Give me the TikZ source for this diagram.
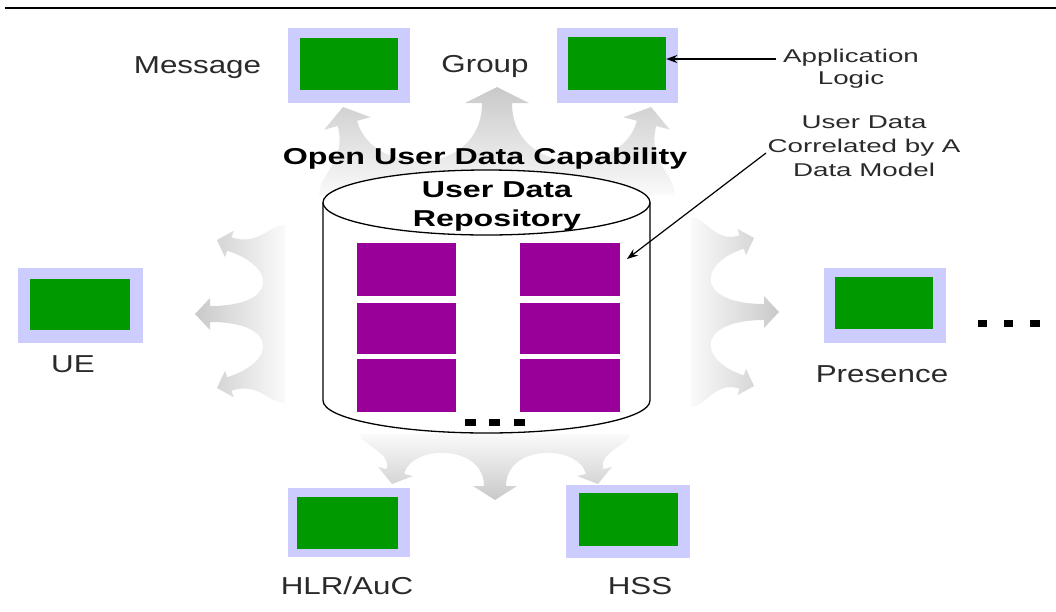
\documentclass[tikz,border=0pt]{standalone}
\usepackage{fontspec}
\setmainfont{Liberation Sans}
\newfontfamily\lblfont{Liberation Sans}[FakeStretch=1.28]
\newfontfamily\hdfont{Liberation Sans}[FakeStretch=1.4]
\newfontfamily\notefont{Liberation Sans}[FakeStretch=1.5]
\usetikzlibrary{arrows.meta}

\definecolor{boxgreen}{HTML}{009900}
\definecolor{lavender}{HTML}{CCCCFF}
\definecolor{blockpurple}{HTML}{990099}
\definecolor{fandark}{HTML}{C9C9C9}
\definecolor{fanlight}{HTML}{FAFAFA}
\definecolor{labeltext}{HTML}{2A2A2A}

% parameters of a fan of three broad arrows, in local units:
% width along the base, height towards the tips
\pgfkeys{/fan/.cd,
  W/.store in=\fW, S/.store in=\fS, Lc/.store in=\fLc, Ls/.store in=\fLs,
  d/.store in=\fd, hwc/.store in=\fhwc, hlc/.store in=\fhlc, swc/.store in=\fswc,
  hw/.store in=\fhw, hl/.store in=\fhl, sw/.store in=\fsw, tilt/.store in=\ftilt}

\newcommand\fanshape[1]{%
  \pgfkeys{/fan/.cd,#1}%
  \pgfmathsetmacro\sa{sin(\ftilt)}%
  \pgfmathsetmacro\ca{cos(\ftilt)}%
  % centre of the base of a side arrow head
  \pgfmathsetmacro\bx{\fS-\fhl*\sa}%
  \pgfmathsetmacro\by{\fLs-\fhl*\ca}%
  % head corners and shaft corners of a side arrow
  \pgfmathsetmacro\hox{\bx+\fhw*\ca}\pgfmathsetmacro\hoy{\by-\fhw*\sa}%
  \pgfmathsetmacro\hix{\bx-\fhw*\ca}\pgfmathsetmacro\hiy{\by+\fhw*\sa}%
  \pgfmathsetmacro\pox{\bx+\fsw*\ca}\pgfmathsetmacro\poy{\by-\fsw*\sa}%
  \pgfmathsetmacro\pix{\bx-\fsw*\ca}\pgfmathsetmacro\piy{\by+\fsw*\sa}%
  \pgfmathsetmacro\cy{\fLc-\fhlc}%
  % control height of the bays between the arrows
  \pgfmathsetmacro\yb{(\fd-0.125*(\cy+\piy))/0.75}%
  \pgfmathsetmacro\bcx{\pix-(\piy-\yb)*\sa/\ca}%
  % controls of the outer edges
  \pgfmathsetmacro\ocx{\pox-0.5*\poy*\sa/\ca}\pgfmathsetmacro\ocy{0.5*\poy}%
  \pgfmathsetmacro\owy{0.3*\poy}%
  \shade[fanshade]
    (-\fW,0) .. controls (-\fW,\owy) and (-\ocx,\ocy) .. (-\pox,\poy)
    -- (-\hox,\hoy) -- (-\fS,\fLs) -- (-\hix,\hiy) -- (-\pix,\piy)
    .. controls (-\bcx,\yb) and (-\fswc,\yb) .. (-\fswc,\cy)
    -- (-\fhwc,\cy) -- (0,\fLc) -- (\fhwc,\cy) -- (\fswc,\cy)
    .. controls (\fswc,\yb) and (\bcx,\yb) .. (\pix,\piy)
    -- (\hix,\hiy) -- (\fS,\fLs) -- (\hox,\hoy) -- (\pox,\poy)
    .. controls (\ocx,\ocy) and (\fW,\owy) .. (\fW,0) -- cycle;
}

\begin{document}
\begin{tikzpicture}[x=1pt,y=-1pt,
  frame/.style={fill=lavender, draw=none, inner sep=0},
  gbox/.style={fill=boxgreen, draw=none, inner sep=0},
  pblock/.style={fill=blockpurple, draw=none, inner sep=0, minimum width=99pt},
  lbl/.style={font=\lblfont\fontsize{24.5}{29}\selectfont, text=labeltext, inner sep=0, anchor=base},
  hd/.style={font=\hdfont\bfseries\fontsize{23}{29}\selectfont, text=black, inner sep=0, align=center},
  note/.style={font=\notefont\fontsize{18.5}{24}\selectfont, text=labeltext, inner sep=0, align=center},
  pointer/.style={draw=black, line width=1.2pt, -{Stealth[length=11pt,width=8pt]}},
  cyl/.style={draw=black, line width=1.3pt},
]
\useasboundingbox (0,0) rectangle (1056,611);

% rule along the top
\draw[line width=2pt] (5,8) -- (1056,8);

% fans of broad grey arrows around the repository
\begin{scope}[shift={(497,195)}, x={(1pt,0pt)}, y={(0pt,1pt)},
    fanshade/.style={top color=fandark, bottom color=fanlight}]
  \fanshape{W=178, S=154, Lc=108, Ls=88, d=34, hwc=32, hlc=16, swc=15,
            hw=24, hl=17, sw=10, tilt=15}
\end{scope}
\begin{scope}[shift={(285,314)}, x={(0pt,1pt)}, y={(-1pt,0pt)},
    fanshade/.style={left color=fandark, right color=fanlight}]
  \fanshape{W=89, S=74, Lc=90, Ls=68, d=22, hwc=16, hlc=15, swc=8,
            hw=14, hl=13, sw=7, tilt=18}
\end{scope}
\begin{scope}[shift={(691,312)}, x={(0pt,1pt)}, y={(1pt,0pt)},
    fanshade/.style={left color=fanlight, right color=fandark}]
  \fanshape{W=95, S=74, Lc=88, Ls=63, d=20, hwc=16, hlc=15, swc=8,
            hw=14, hl=13, sw=7, tilt=18}
\end{scope}
\begin{scope}[shift={(495,434)}, x={(1pt,0pt)}, y={(0pt,-1pt)},
    fanshade/.style={top color=fanlight, bottom color=fandark}]
  \fanshape{W=135, S=103, Lc=66, Ls=50, d=19, hwc=22, hlc=14, swc=11,
            hw=18, hl=13, sw=9, tilt=15}
\end{scope}

% repository cylinder
\fill[white] (323,202.5) -- (323,400.5)
  arc[start angle=180, end angle=360, x radius=163.5pt, y radius=32.5pt]
  -- (650,202.5) -- cycle;
\draw[cyl] (323,202.5) -- (323,400.5)
  arc[start angle=180, end angle=360, x radius=163.5pt, y radius=32.5pt]
  -- (650,202.5);
\filldraw[cyl, fill=white] (486.5,202.5) ellipse[x radius=163.5pt, y radius=32.5pt];

% user data records
\node[pblock, minimum height=53pt] (pl1) at (406.5,269.5) {};
\node[pblock, minimum height=51pt] (pl2) at (406.5,328.5) {};
\node[pblock, minimum height=53pt] (pl3) at (406.5,385.5) {};
\node[pblock, minimum width=100pt, minimum height=53pt] (pr1) at (570,269.5) {};
\node[pblock, minimum width=100pt, minimum height=51pt] (pr2) at (570,328.5) {};
\node[pblock, minimum width=100pt, minimum height=53pt] (pr3) at (570,385.5) {};

% ellipsis below the records
\fill (465,419) rectangle (476,426);
\fill (489,419) rectangle (500,426);
\fill (514,419) rectangle (525,426);

% headings
\node[hd, anchor=base] (cap) at (485,164) {Open User Data Capability};
\node[hd] (repo) at (497,206.5) {User Data\\Repository};

% client boxes
\node[frame, minimum width=122pt, minimum height=75pt] (msgf) at (349,65.5) {};
\node[gbox, minimum width=98pt, minimum height=52pt] (msg) at (349,64) {};
\node[frame, minimum width=121pt, minimum height=75pt] (grpf) at (617.5,65.5) {};
\node[gbox, minimum width=98pt, minimum height=53pt] (grp) at (617,63.5) {};
\node[frame, minimum width=125pt, minimum height=75pt] (uef) at (80.5,305.5) {};
\node[gbox, minimum width=100pt, minimum height=51pt] (ue) at (80,304.5) {};
\node[frame, minimum width=122pt, minimum height=75pt] (presf) at (885,305.5) {};
\node[gbox, minimum width=98pt, minimum height=52pt] (pres) at (884,303) {};
\node[frame, minimum width=122pt, minimum height=69pt] (hlrf) at (349,522.5) {};
\node[gbox, minimum width=101pt, minimum height=52pt] (hlr) at (347.5,523) {};
\node[frame, minimum width=124pt, minimum height=73pt] (hssf) at (628,521.5) {};
\node[gbox, minimum width=99pt, minimum height=53pt] (hss) at (628.5,519.5) {};

% labels
\node[lbl] (msglbl) at (197.5,73) {Message};
\node[lbl] (grplbl) at (485,72) {Group};
\node[lbl] (uelbl) at (73,372) {UE};
\node[lbl] (preslbl) at (882,382) {Presence};
\node[lbl] (hlrlbl) at (347,594) {HLR/AuC};
\node[lbl] (hsslbl) at (640,594) {HSS};

% ellipsis right of Presence
\fill (978,320) rectangle (987,327);
\fill (1004,320) rectangle (1013,327);
\fill (1030,320) rectangle (1040,327);

% annotations
\node[note] (applogic) at (851,68.4) {Application\\[-2pt]Logic};
\node[note] (corr) at (864,146.4) {User Data\\Correlated by A\\Data Model};
\coordinate (appstart) at (776,59);
\coordinate (corrstart) at (766,153);
\coordinate (corrend) at (627,259);
\draw[pointer] (appstart) -- (grp.east |- appstart);
\draw[pointer] (corrstart) -- (corrend);
\end{tikzpicture}
\end{document}
